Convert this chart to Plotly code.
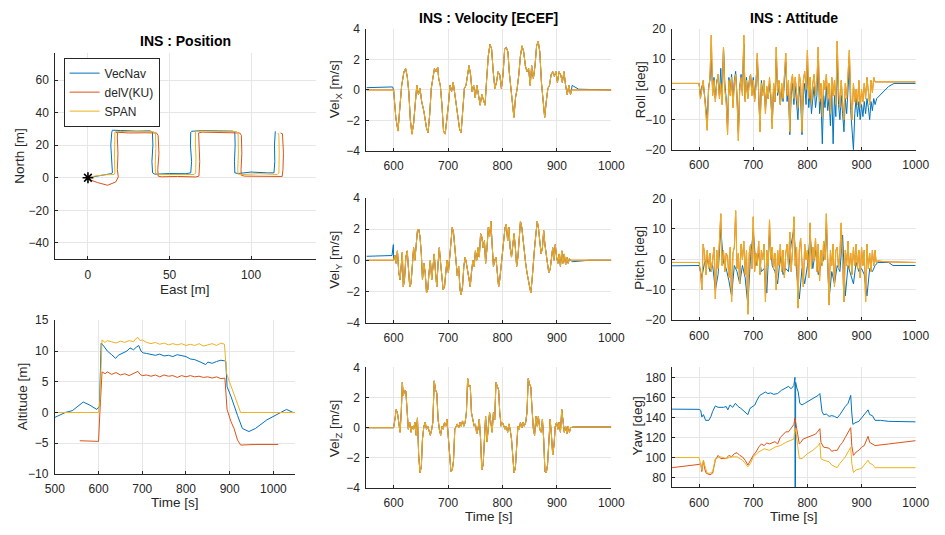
import numpy as np
import plotly.graph_objects as go

W, H = 945, 535
C_VN, C_DV, C_SP = "#0072BD", "#D95319", "#EDB120"
NAMES = ["VecNav", "delV(KU)", "SPAN"]

# ---------------- Position (East / North, m) ----------------
pos_vn_e = [0, 3, 8, 14, 15, 14.5, 14, 14.6, 15, 20, 30, 38, 39.5, 39.8, 39.2, 39.6, 41, 50, 60, 63,
            63.5, 62.8, 63, 63.5, 70, 80, 89, 90, 90.2, 89.8, 90, 92, 100, 110, 114, 114.5, 114.3, 114.8]
pos_vn_n = [0, 0.5, 1.5, 2.5, 3, 10, 20, 28, 29.2, 29, 28.6, 28.8, 28, 20, 10, 3, 2.2, 2.6, 2.5, 3,
            10, 20, 28, 28.5, 29, 28.8, 28.6, 27.5, 20, 10, 3, 2.6, 3.5, 3, 3, 10, 20, 28.5]
pos_dv_e = [0, 2, 6, 12, 17, 18.6, 18, 18.4, 18, 18.2, 17, 25, 35, 42, 43, 43.5, 42.8, 43, 45, 55,
            66, 68, 68.5, 68, 67.8, 70, 80, 93, 94, 94.3, 93.8, 94, 96, 110, 119, 119.5, 119.8, 119.2, 118]
pos_dv_n = [0, -1.5, -3, -4.6, -2.6, 0.5, 5, 15, 25, 27.5, 28, 27.5, 27.6, 27.5, 26, 15, 5, 1, 0.6, 0.8,
            0.5, 1, 10, 20, 27.5, 28, 27.8, 27.5, 26, 15, 5, 1.5, 1, 0.8, 0.8, 5, 15, 27, 27.5]
pos_sp_e = [0, 4, 10, 16, 16.5, 16.2, 16.4, 16.5, 18, 28, 40, 41.4, 41.6, 41.2, 41.4, 45, 55, 65, 66, 66.2,
            65.8, 66, 70, 80, 91, 92, 92.2, 91.8, 92, 95, 105, 116, 117, 117.2, 117, 116.5]
pos_sp_n = [0, 1, 1.8, 2, 3, 12, 22, 28, 28.4, 28.2, 28.3, 27.5, 18, 8, 2.5, 2, 2.2, 2, 3, 12,
            22, 28.5, 28.7, 28.6, 28.4, 27, 15, 5, 2.2, 2, 2.5, 2, 3, 15, 26, 27.5]
start_e, start_n = [0], [0]

# ---------------- Altitude (m) ----------------
alt_vn_t = [500, 524, 540, 552, 565, 580, 596, 602, 606, 612, 620, 630, 639, 645, 655, 665, 672, 680, 686, 692,
            697, 702, 710, 720, 730, 740, 750, 760, 770, 780, 790, 800, 810, 820, 830, 840, 845, 850, 860, 870,
            880, 888, 891, 894, 903, 918, 929, 944, 959, 985, 1007, 1030, 1045]
alt_vn = [-0.8, 0.0, 0.3, 1.0, 1.7, 1.2, 0.5, 1.0, 11.3, 10.8, 10.0, 9.4, 8.8, 9.3, 9.6, 10.0, 10.5, 10.2, 10.6, 10.9,
          10.0, 9.7, 9.6, 9.5, 9.3, 9.5, 9.2, 9.3, 9.1, 9.4, 9.2, 9.1, 8.7, 8.6, 8.3, 8.0, 7.8, 8.2, 8.0, 8.3,
          8.5, 8.4, 8.3, 4.2, 2.6, -0.5, -2.6, -3.1, -2.6, -1.2, -0.3, 0.5, 0.0]
alt_dv_t = [557, 600, 603, 608, 615, 620, 630, 640, 650, 660, 670, 680, 690, 695, 700, 710, 720, 730, 740, 750,
            760, 770, 780, 790, 800, 810, 820, 830, 840, 850, 860, 870, 880, 889, 894, 903, 910, 918, 925, 960, 1011]
alt_dv = [-4.6, -4.7, 0.0, 6.6, 6.3, 6.6, 6.2, 6.5, 6.1, 6.3, 6.0, 6.3, 6.7, 6.2, 6.0, 6.1, 5.9, 6.1, 5.8, 6.1,
          5.9, 6.0, 5.7, 6.0, 5.8, 6.0, 5.8, 5.9, 5.7, 5.8, 5.6, 5.8, 5.5, 5.6, 0.5, -1.5, -2.6, -4.5, -5.3, -5.2, -5.2]
alt_sp_t = [500, 600, 603, 608, 615, 620, 630, 640, 650, 660, 670, 680, 685, 690, 695, 700, 710, 720, 730, 740,
            750, 760, 770, 780, 790, 800, 810, 820, 830, 840, 850, 860, 870, 880, 888, 893, 902, 911, 925, 1050]
alt_sp = [0.0, 0.0, 2.0, 11.8, 11.4, 11.7, 11.5, 11.3, 11.6, 11.4, 11.7, 11.5, 12.0, 12.2, 11.7, 11.8, 11.4, 11.2, 11.4, 11.1,
          11.3, 11.0, 11.2, 11.0, 11.2, 10.9, 11.1, 10.9, 11.2, 10.8, 11.0, 11.2, 10.9, 11.3, 11.1, 6.3, 4.5, 2.6, 0.0, 0.0]

# ---------------- Velocity ECEF (m/s) ----------------
vx_t = [600, 604, 608, 611.8, 614.8, 619, 622, 625, 627.8, 630.8,
        633.7, 636.7, 639.6, 642.6, 645.6, 648.5, 651.5, 655.6, 660.4, 663.3,
        666.3, 669.2, 672, 675, 678, 681, 682.8, 685.8, 688.8, 691.7,
        694.7, 697.6, 700.6, 703.6, 706.5, 709.5, 712.4, 715.4, 718, 721.3,
        724, 727, 730, 733, 736, 738.5, 741.4, 744, 747, 750,
        753, 756, 759, 762, 765, 768, 771, 774, 777, 780,
        783, 786, 789, 792, 795, 798, 801, 804, 807, 810,
        812.4, 815, 818, 821, 824, 827, 830, 833, 836, 839,
        842, 845, 848, 851, 853.6, 856.8, 859.8, 862.7, 865.7, 868.6,
        871.6, 874.6, 877.5, 880.5, 883.4, 886.4, 889.3, 892.3, 895.3, 898.2,
        901, 904, 907, 910, 913, 916, 919, 922, 925, 926.6]
vx_flight = [0, -1.8, -2.7, -1.0, 0.3, 1.2, 1.4, 0.9, -0.1, -2.0,
             -2.9, -2.2, -1.0, 0.3, -0.3, 0.1, -0.75, -1.4, -2.5, -2.8,
             -1.6, 0.1, 0.75, 1.4, 1.2, 1.5, 0.75, 0.3, -1.0, -2.7,
             -2.9, -2.0, -1.0, 0.3, -0.1, 0.5, -0.2, -1.0, -1.6, -2.6,
             -2.8, -1.6, 0.1, 0.3, 1.2, 1.6, 1.0, -0.1, 0.3, -0.5,
             0.3, -0.3, -1.0, -0.3, -0.75, -1.0, 0.75, 2.25, 3.0, 2.7,
             1.2, 0.1, 0.5, 1.2, 1.0, 0.1, 1.0, 2.7, 2.8, 2.5,
             1.2, 0.3, -1.0, -1.8, -0.5, 0.1, 1.0, 2.25, 2.9, 2.5,
             1.6, 1.2, 1.4, 0.3, 1.6, 0.75, 1.6, 2.9, 3.2, 2.5,
             0.5, -0.75, -1.8, -0.75, 0.1, 0.3, 1.0, 1.2, 0.9, 1.2,
             0.5, 1.2, 1.0, 0.5, 1.2, 0.3, -0.3, 0.3, -0.3, 0]
vx_pre_t, vx_pre_vn, vx_pre_other = [550, 598], [0.15, 0.2], [0.0, 0.0]
vx_post_t, vx_post_vn, vx_post_other = [928, 940, 1000], [0.3, 0.05, 0.0], [0.0, 0.0, 0.0]

vyz_t = [600, 602.4, 604.7, 607, 609.5, 611.8, 614, 616, 617.8, 620,
         622.5, 625, 627, 629.6, 632, 634.3, 636.7, 639, 641.4, 643.8,
         646, 648.5, 650.9, 653, 655.6, 658, 660.4, 662.7, 665, 667.5,
         670, 672, 674.6, 677, 679.3, 681.7, 684, 686.4, 688.8, 691,
         693.5, 695.9, 698, 700.6, 703, 705.3, 707.7, 710, 712.4, 714.8,
         717, 719.5, 722, 724, 726.6, 729, 731.4, 733.7, 736, 738.5,
         740.8, 743, 745.6, 748, 750.3, 752.7, 755, 757.4, 759.8, 762,
         764.5, 766.9, 769, 771.6, 774, 776.3, 778.7, 781, 783.4, 785.8,
         788, 790.5, 792.9, 795, 797.6, 800, 802.4, 804.7, 807, 809.5,
         811.8, 814, 816.6, 819, 821.3, 823.7, 826, 828.4, 830.8, 833,
         835.5, 837.9, 840, 842.6, 845, 847.3, 849.7, 852, 854.4, 856.8,
         859, 861.5, 863.9, 866, 868.6, 871, 873.4, 875.7, 878, 880.5,
         882.8, 885, 887.6, 890, 892.3, 894.7, 897, 899.4, 901.8, 904,
         906.5, 908.9, 911, 913.6, 916, 918.3, 920.7, 923, 925.4]
vy_flight = [0, 0.3, -0.2, 0.6, -0.8, -1.25, 0, 0.5, -1.7, -1.25,
             0.2, 0.6, -0.4, -1.7, -1.5, -0.2, 0.8, 0, 0.8, 1.9,
             2.0, 1.5, 0.4, -1.25, -0.2, -0.8, -2.1, -1.9, -0.8, 0,
             -1.25, -0.4, 0.4, -0.8, -1.7, -0.2, 0.8, -0.2, -1.25, -1.9,
             -1.7, -0.4, 0, -0.8, 0.2, 1.25, 2.1, 1.8, 0.8, -0.2,
             -1.0, -0.4, -1.9, -2.2, -1.7, -0.4, 0.2, -0.2, -0.8, -1.25,
             -1.7, -0.8, 0, -0.4, 0.6, 0, 0.8, 0.2, 1.7, 1.5,
             0.8, 1.25, -0.2, 0.8, 2.1, 1.5, 2.5, 1.0, -0.4, 0,
             0.2, -0.8, -1.7, -1.25, -0.2, 0.4, 1.25, 2.1, 2.3, 1.25,
             2.1, 0.8, 0.2, 1.25, 1.7, 0.8, -0.4, 0.2, 1.5, 2.5,
             2.1, 1.25, 0.4, -0.2, -0.8, -1.25, -1.9, -2.1, -1.25, 0,
             0.8, 1.7, 2.5, 2.1, 1.25, 0.4, 0.8, 1.9, 1.0, 0.2,
             -0.4, -0.8, -0.6, 0.4, 0.8, 0, 1.0, 0.2, -0.2, 0.4,
             -0.4, 0.6, -0.2, 0.4, -0.3, 0.2, -0.2, 0.1, 0]
vy_pre_t, vy_pre_vn, vy_pre_other = [550, 597, 599.5], [0.25, 0.3, 1.0], [0.0, 0.0, 0.0]
vy_post_t, vy_post_vn, vy_post_other = [928, 960, 1000], [-0.1, 0.0, 0.0], [0.0, 0.0, 0.0]

vz_flight = [0, 0.55, 1.2, 1.0, 0.1, -0.3, 1.0, 3.0, 2.1, 2.5,
             2.4, 0.55, -0.1, 0.35, -0.3, 0.1, -0.1, 0.35, -0.5, 0.65,
             -1.8, -3.0, -2.55, -0.75, 0.1, 0.35, -0.1, 0.1, -0.2, -0.5,
             -0.1, 0.35, 3.1, 2.5, 2.3, 0.55, -0.1, -0.5, 0.1, -0.1,
             0.35, 0.1, 0.55, -0.75, -2.0, -2.9, -2.8, -2.2, -0.1, 0.1,
             0.25, 0, 0.35, 0.1, 0.45, 0.1, 0.35, 1.0, 3.25, 2.7,
             2.8, 1.0, 0.35, 0.1, 0.25, -0.4, -0.1, 0.55, -0.75, -2.8,
             -2.45, -0.75, 0.75, -0.95, 0.35, 1.0, 0.35, -0.3, 1.0, 0.55,
             3.0, 2.7, 2.5, 1.0, 0.1, 0.35, 0.1, -0.1, 0.1, -0.3,
             0.25, -0.1, -0.75, -2.0, -3.0, -2.65, -1.15, 0.1, -0.1, 0.35,
             0, 0.35, 0.1, 0.35, 1.0, 3.25, 2.9, 2.7, 1.2, -0.1,
             -0.5, 0.75, 0.1, 0.75, -0.1, -0.3, 0.55, -0.75, -2.9, -3.0,
             -2.45, -1.15, 0.55, -0.5, -1.8, -1.15, 0.1, 0.35, -0.1, 0.35,
             -0.3, 1.2, 0.55, -0.3, 0.1, -0.4, 0.1, -0.3, 0]
vz_pre_t, vz_pre_vn, vz_pre_other = [550, 598], [0.0, 0.0], [0.0, 0.0]
vz_post_t, vz_post_vn, vz_post_other = [930, 1000], [0.05, 0.05], [0.05, 0.05]

# ---------------- Attitude (deg) ----------------
att_t = np.arange(600, 925.01, 2.5)          # sample times of the flight part
pitch_vn_t = np.arange(600, 925.01, 5.0)

roll_sp = [2, -3, 0, 3, -2, -8, -13.5, 0, 4, 18,
           -2, 3, -4, 2, 5, -3, 2, -5, 14, 0,
           -4, -15, 3, -2, 4, -6, 2, 5, -3, -17,
           0, 4, -2, 18, -4, 3, -3, 2, 5, -2,
           3, -4, 1, 12, -3, -14, 2, -2, 3, -8,
           1, -3, 4, -2, -13, 2, -4, 14, -1, 3,
           -5, 2, -3, 4, 12, -2, 3, -14, 2, 5,
           -3, 4, 0, -6, 5, 2, -14, 3, 6, 0,
           13, -3, 4, -5, 2, 5, -2, 3, 14, -4,
           2, -9, 3, 0, 5, -3, 2, -8, 4, -2,
           3, -5, 16, 0, -6, 3, -4, -10, 2, -3,
           5, 13, -3, -10, 2, -4, 0, -5, 3, -6,
           0, -4, 2, -3, 4, -2, -5, 3, -1, 4,
           2.5]
roll_vn = [2, -2, 1, 2, -3, -6, -10, 1, 3, 10,
           -1, 4, -3, 3, 4, -2, 7, -3, 14, 2,
           -3, -12, 4, -1, 5, -4, 3, 6, -2, -14,
           1, 5, -1, 15, -3, 4, -2, 3, 5, -1,
           4, -3, 2, 10, -2, -12, 3, -1, 2, -6,
           0, -3, 2, -3, -11, 0, -4, 10, -2, 1,
           -5, 0, -4, 2, 9, -4, 0, -15, -2, 2,
           -5, 1, -4, -10, 1, -3, -15, -2, 2, -5,
           8, -6, 0, -8, -3, 1, -6, -2, 10, -8,
           -3, -18, -2, -6, 1, -7, -3, -12, 0, -18,
           -2, -9, 10, -5, -10, -2, -8, -14, -3, -8,
           0, 8, -7, -14, -20, -8, -3, -9, -4, -10,
           -5, -9, -4, -8, -3, -6, -10, -4, -7, -3,
           -5]
roll_pre_t, roll_pre = [550, 599], [2.0, 2.0]
roll_post_t, roll_post_other = [927, 1000], [2.5, 2.5]
roll_post_vn_t, roll_post_vn = [928, 940, 950, 960, 1000], [-3, -1, 1, 2, 2]

pitch_sp = [-1, -4, -10, 5, 2, -5, 3, -3, 2, -4,
            1, 4, -13, 3, -3, 5, 15, -2, 3, -4,
            2, 1, -6, 4, -14, 2, 4, 16, -3, 2,
            -8, 5, 0, 6, -5, 3, -18, 2, 5, -3,
            14, -4, 2, -2, 6, -5, 3, 0, 5, -14,
            3, -2, 13, 0, 4, -3, 2, -10, 3, -2,
            5, -4, 3, -6, 2, 5, -2, 9, -4, 3,
            14, -2, 4, -16, 3, 7, -2, -9, 5, 0,
            3, -6, 12, -3, 4, 0, 7, -4, 5, -7,
            3, -2, 6, 0, 15, -3, -15, 3, -2, 5,
            -9, 3, 4, -3, 2, 12, -4, -14, 3, -2,
            6, -3, 2, -5, 4, -2, 5, -3, 3, -6,
            4, -2, 3, -14, 5, -3, 2, -4, 3, -2,
            3]
pitch_vn = [-2, -6, -1, 0, -4, -2, -10, -5, 10, -1,
            -3, -7, -12, -2, -4, -8, -2, -6, -15, 1,
            9, -2, 2, -4, -3, -11, 8, -2, -4, -8,
            1, -5, -3, -4, 5, 10, -4, -13, -3, -8,
            -2, 8, -3, 3, -5, -2, 0, 10, -13, -4,
            -8, -2, -4, 8, -12, -2, -5, -8, -1, -4,
            -3, -5, -12, -3, -4, -2]
pitch_pre_t, pitch_pre_other, pitch_pre_vn = [550, 599], [-1.0, -1.0], [-2.1, -2.1]
pitch_post_t, pitch_post_other = [927, 930, 945, 1000], [-1.0, -0.5, -0.8, -1.0]
pitch_post_vn_t, pitch_post_vn = [930, 950, 958, 1000], [-1.0, -1.0, -2.0, -2.0]

yaw_vn_t = [550, 600, 603, 605, 608, 610, 612, 618, 622, 625, 630, 635, 645, 650, 653, 657, 662, 667, 672, 677,
            685, 690, 694, 700, 703, 707, 712, 718, 722, 727, 732, 738, 745, 752, 758, 765, 770, 775, 777.0, 777.2,
            777.4, 777.6, 777.8, 778.0, 778.3, 780, 783, 786, 790, 795, 800, 805, 810, 815, 820, 823, 825, 827, 830, 835,
            840, 845, 850, 855, 860, 865, 870, 875, 878, 880, 882, 884, 888, 895, 900, 905, 910, 912, 915, 920,
            925, 935, 950, 1000]
yaw_vn = [148.2, 148, 147, 140.4, 142.7, 139.4, 137, 137, 141, 146, 151.4, 150, 150, 150.8, 147.5, 152.4, 150, 154, 150.8, 149,
          145, 142.7, 149, 150.8, 152.4, 157.3, 162, 163.8, 165.4, 163.8, 164.4, 163, 163.8, 167, 168.6, 170.9, 168.6, 171.9, 180, -180,
          179, -179, 178, -178, 175, 170.3, 165.4, 154, 152.4, 154, 155.7, 157.3, 159, 160, 162, 163.8, 152.4, 146, 142.7, 143.3,
          141, 141.7, 141, 139.4, 142.7, 147.5, 150.8, 154, 160.5, 162, 144.3, 133, 134.5, 136, 139.4, 142.7, 146, 147.5, 142.7, 141.7,
          137, 137, 136, 135.5]
yaw_dv_t = [550, 600, 603, 605, 608, 610, 613, 620, 625, 630, 635, 640, 650, 655, 660, 665, 670, 675, 680, 685,
            690, 695, 700, 705, 710, 715, 720, 725, 730, 740, 745, 750, 755, 760, 765, 770, 775, 777, 779, 782,
            785, 788, 792, 800, 810, 815, 820, 823, 825, 830, 840, 845, 850, 855, 860, 865, 870, 875, 880, 882,
            885, 890, 895, 900, 905, 910, 912, 915, 920, 925, 950, 1000]
yaw_dv = [89.7, 93, 94, 85.8, 97.2, 89, 84.2, 82.6, 84.2, 97.2, 102, 98.8, 98.8, 102, 100.5, 103.7, 104.7, 102, 100.5, 97.2,
          92.3, 97.2, 102, 105.3, 110.2, 113.4, 111.8, 114.4, 113.4, 115.7, 113.4, 119.9, 123.2, 125.5, 125.5, 128.7, 132.9, 139.4, 131.3, 123.2,
          113.4, 115, 118.3, 120, 121.6, 123.2, 126.4, 128.7, 115, 110.2, 109.2, 106, 107, 107, 111.8, 115, 120, 124.2, 129.7, 111.8,
          102, 105.3, 107, 110.2, 111.8, 118.3, 121, 115, 113.4, 111.8, 113.4, 116.7]
yaw_sp_t = [550, 600, 605, 608, 612, 615, 620, 625, 630, 640, 650, 660, 670, 680, 690, 695, 700, 710, 720, 730,
            740, 750, 760, 770, 775, 777, 779, 782, 785, 790, 800, 810, 820, 823, 825, 830, 840, 845, 850, 855,
            860, 870, 880, 882, 885, 890, 900, 910, 912, 915, 920, 925, 1000]
yaw_sp = [99.8, 99.8, 87.5, 97.2, 89, 84.2, 84.2, 85.8, 98.8, 100.5, 98.8, 100.5, 100.5, 97.2, 90.7, 94, 100.5, 105.3, 108.6, 107,
          110.2, 111.8, 115, 116.7, 118.3, 129.7, 124.8, 111.8, 98.8, 98.8, 103.7, 107, 111.8, 114.4, 98.8, 97.2, 95.6, 92.3, 90.7, 89.7,
          94, 100.5, 110.2, 94, 84.9, 87.5, 89, 95.6, 97.2, 94, 93, 89.7, 89.7]

# sanity checks on hand-read arrays
for a, b in [(pos_vn_e, pos_vn_n), (pos_dv_e, pos_dv_n), (pos_sp_e, pos_sp_n), (alt_vn_t, alt_vn),
             (alt_dv_t, alt_dv), (alt_sp_t, alt_sp), (vx_t, vx_flight), (vyz_t, vy_flight), (vyz_t, vz_flight),
             (att_t, roll_sp), (att_t, roll_vn), (att_t, pitch_sp), (pitch_vn_t, pitch_vn),
             (yaw_vn_t, yaw_vn), (yaw_dv_t, yaw_dv), (yaw_sp_t, yaw_sp)]:
    assert len(a) == len(b), (len(a), len(b))

# ---------------- figure ----------------
FONT = "Liberation Sans, Arial, Helvetica, sans-serif"
TXT = "#262626"
fig = go.Figure()


def dom_x(x0, x1):
    return [x0 / W, x1 / W]


def dom_y(y0, y1):
    return [1 - y1 / H, 1 - y0 / H]


# panel: (suffix, x px range, y px range, xrange, yrange, xticks, yticks)
panels = [
    ("", (46.5, 314.4), (47.7, 259), [-20, 140], [-50, 76.3], [0, 50, 100], [-40, -20, 0, 20, 40, 60]),
    ("2", (46, 292.7), (321.7, 479.5), [500, 1050], [-10, 15], [500, 600, 700, 800, 900, 1000], [-10, -5, 0, 5, 10, 15]),
    ("3", (365.7, 617), (22.7, 147.7), [550, 1000], [-4, 4], [600, 700, 800, 900, 1000], [-4, -2, 0, 2, 4]),
    ("4", (365.7, 617), (196, 324), [550, 1000], [-4, 4], [600, 700, 800, 900, 1000], [-4, -2, 0, 2, 4]),
    ("5", (365.7, 617), (370, 494), [550, 1000], [-4, 4], [600, 700, 800, 900, 1000], [-4, -2, 0, 2, 4]),
    ("6", (679.3, 929.3), (22.7, 146.7), [550, 1000], [-20, 20], [600, 700, 800, 900, 1000], [-20, -10, 0, 10, 20]),
    ("7", (679.3, 929.3), (196.7, 321.7), [550, 1000], [-20, 20], [600, 700, 800, 900, 1000], [-20, -10, 0, 10, 20]),
    ("8", (679.3, 929.3), (370, 493.3), [550, 1000], [70, 190], [600, 700, 800, 900, 1000], [80, 100, 120, 140, 160, 180]),
]

common = dict(showgrid=True, gridcolor="#e6e6e6", gridwidth=1, zeroline=False, showline=True,
              linecolor=TXT, linewidth=1, ticks="inside", ticklen=3, tickcolor=TXT,
              tickfont=dict(size=12, color=TXT, family=FONT), mirror=False)

for suf, xp, yp, xr, yr, xt, yt in panels:
    xa = dict(common, domain=dom_x(*xp), range=xr, tickvals=xt, anchor="y" + suf, ticklabelstandoff=4)
    ya = dict(common, domain=dom_y(*yp), range=yr, tickvals=yt, anchor="x" + suf, ticklabelstandoff=3)
    fig.update_layout(**{"xaxis" + suf: xa, "yaxis" + suf: ya})


def line(x, y, color, suf, name=None, legend=False, width=1):
    fig.add_trace(go.Scatter(x=list(x), y=list(y), mode="lines", line=dict(color=color, width=width),
                             name=name, showlegend=legend, xaxis="x" + suf, yaxis="y" + suf,
                             hoverinfo="skip"))


# position
line(pos_vn_e, pos_vn_n, C_VN, "", NAMES[0], True)
line(pos_dv_e, pos_dv_n, C_DV, "", NAMES[1], True)
line(pos_sp_e, pos_sp_n, C_SP, "", NAMES[2], True)
fig.add_trace(go.Scatter(x=start_e, y=start_n, mode="markers", showlegend=False, hoverinfo="skip",
                         marker=dict(symbol="asterisk-open", size=9, color="black", line=dict(color="black", width=1.6)),
                         xaxis="x", yaxis="y"))

# altitude
line(alt_vn_t, alt_vn, C_VN, "2")
line(alt_dv_t, alt_dv, C_DV, "2")
line(alt_sp_t, alt_sp, C_SP, "2")

# velocities
for suf, ft, fv, pt, pvn, pot, qt, qvn, qot in [
        ("3", vx_t, vx_flight, vx_pre_t, vx_pre_vn, vx_pre_other, vx_post_t, vx_post_vn, vx_post_other),
        ("4", vyz_t, vy_flight, vy_pre_t, vy_pre_vn, vy_pre_other, vy_post_t, vy_post_vn, vy_post_other),
        ("5", vyz_t, vz_flight, vz_pre_t, vz_pre_vn, vz_pre_other, vz_post_t, vz_post_vn, vz_post_other)]:
    line(list(pt) + list(ft) + list(qt), list(pvn) + list(fv) + list(qvn), C_VN, suf)
    line(list(pt) + list(ft) + list(qt), list(pot) + list(fv) + list(qot), C_DV, suf)
    line(list(pt) + list(ft) + list(qt), list(pot) + list(fv) + list(qot), C_SP, suf)

# roll
line(roll_pre_t + list(att_t) + roll_post_vn_t, roll_pre + roll_vn + roll_post_vn, C_VN, "6")
line(roll_pre_t + list(att_t) + roll_post_t, roll_pre + roll_sp + roll_post_other, C_DV, "6")
line(roll_pre_t + list(att_t) + roll_post_t, roll_pre + roll_sp + roll_post_other, C_SP, "6")

# pitch
line(pitch_pre_t + list(pitch_vn_t) + pitch_post_vn_t, pitch_pre_vn + pitch_vn + pitch_post_vn, C_VN, "7")
line(pitch_pre_t + list(att_t) + pitch_post_t, pitch_pre_other + pitch_sp + pitch_post_other, C_DV, "7")
line(pitch_pre_t + list(att_t) + pitch_post_t, pitch_pre_other + pitch_sp + pitch_post_other, C_SP, "7")

# yaw
line(yaw_vn_t, yaw_vn, C_VN, "8")
line(yaw_dv_t, yaw_dv, C_DV, "8")
line(yaw_sp_t, yaw_sp, C_SP, "8")


def text(t, px, py, size=13.5, angle=0, bold=False, color=TXT):
    fig.add_annotation(text=("<b>%s</b>" % t) if bold else t, x=px / W, y=1 - py / H,
                       xref="paper", yref="paper", xanchor="center", yanchor="middle",
                       showarrow=False, textangle=angle,
                       font=dict(size=size, color=color, family=FONT))


# panel titles
text("INS : Position", 180, 35, size=14, bold=True, color="black")
text("INS : Velocity [ECEF]", 491, 11, size=14, bold=True, color="black")
text("INS : Attitude", 804, 11, size=14, bold=True, color="black")
# x-axis labels
text("East [m]", 180, 290)
text("Time [s]", 169, 509)
text("Time [s]", 491, 523)
text("Time [s]", 804, 523)
# y-axis labels
text("North [m]", 10, 153, angle=-90)
text("Altitude [m]", 13, 400, angle=-90)
text("Vel<sub>X</sub> [m/s]", 334, 85, angle=-90)
text("Vel<sub>Y</sub> [m/s]", 334, 260, angle=-90)
text("Vel<sub>Z</sub> [m/s]", 334, 433, angle=-90)
text("Roll [deg]", 647, 85, angle=-90)
text("Pitch [deg]", 646, 258, angle=-90)
text("Yaw [deg]", 644, 430, angle=-90)

fig.update_layout(
    width=W, height=H, autosize=False,
    margin=dict(l=0, r=0, t=0, b=0),
    paper_bgcolor="white", plot_bgcolor="white",
    font=dict(family=FONT, size=12, color=TXT),
    showlegend=True,
    legend=dict(x=55 / W, y=1 - 52 / H, xanchor="left", yanchor="top", bgcolor="white",
                bordercolor=TXT, borderwidth=1, font=dict(size=12, color=TXT, family=FONT),
                tracegroupgap=0, itemwidth=30),
)

fig.write_html("out.html", config={"displayModeBar": False},
               post_script="document.body.style.margin='0';document.body.style.overflow='hidden';")
